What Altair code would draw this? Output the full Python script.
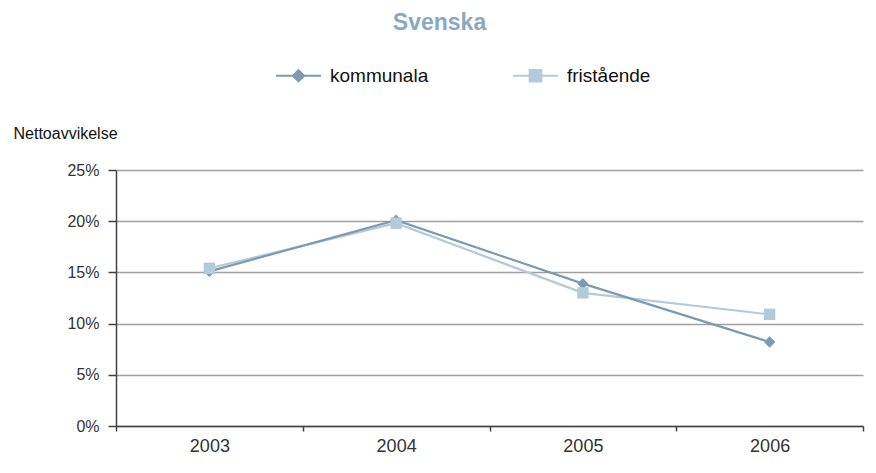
import altair as alt
import pandas as pd

years = ["2003", "2004", "2005", "2006"]
kommunala = [0.151, 0.201, 0.139, 0.082]
fristaende = [0.154, 0.198, 0.130, 0.109]
series_names = ["kommunala", "fristående"]
colors = ["#7B9BB4", "#B3CADA"]
y_ticks = [0, 0.05, 0.10, 0.15, 0.20, 0.25]

rows = []
for i, y in enumerate(years):
    rows.append({"year": y, "series": series_names[0], "value": kommunala[i]})
    rows.append({"year": y, "series": series_names[1], "value": fristaende[i]})
df = pd.DataFrame(rows)

FONT = "Liberation Sans"

x_enc = alt.X(
    "year:O",
    sort=years,
    scale=alt.Scale(type="band", paddingInner=0, paddingOuter=0),
    axis=alt.Axis(
        title=None, labelAngle=0, labelFontSize=18, labelColor="#333333",
        labelFont=FONT, tickBand="extent", tickSize=5, tickColor="#404040",
        tickWidth=1.5, domainColor="#404040", domainWidth=1.5, grid=False,
        labelPadding=6,
    ),
)
y_enc = alt.Y(
    "value:Q",
    scale=alt.Scale(domain=[0, 0.25], nice=False),
    axis=alt.Axis(
        values=y_ticks, format=".0%", labelFontSize=16, labelColor="#333333",
        labelFont=FONT, tickSize=8, tickColor="#404040", tickWidth=1.5,
        domainColor="#404040", domainWidth=1.5, grid=True,
        gridColor="#A0A0A0", gridWidth=1.5, labelPadding=9,
        title="Nettoavvikelse", titleAngle=0, titleAlign="left",
        titleBaseline="alphabetic", titleX=-103, titleY=-32,
        titleFontSize=16, titleFontWeight="normal", titleFont=FONT,
        titleColor="#111111",
    ),
)

base = alt.Chart(df)

def line_layer(name, color):
    return base.transform_filter(alt.datum.series == name).mark_line(
        color=color, strokeWidth=2.2
    ).encode(x=x_enc, y=y_enc)

def point_layer(name, color, shape, size):
    return base.transform_filter(alt.datum.series == name).mark_point(
        color=color, filled=True, opacity=1, shape=shape, size=size
    ).encode(x=x_enc, y=y_enc)

diamond_path = "M-1,0H1M0,-0.25L0.25,0L0,0.25L-0.25,0Z"
square_path = "M-1,0H1M-0.26,-0.26H0.26V0.26H-0.26Z"

legend_layer = base.transform_filter(alt.datum.value < 0).mark_point(
    filled=True, size=2025, strokeWidth=2
).encode(
    x=x_enc,
    y=y_enc,
    shape=alt.Shape("series:N", scale=alt.Scale(domain=series_names, range=[diamond_path, square_path]),
                    legend=alt.Legend(title=None)),
    fill=alt.Fill("series:N", scale=alt.Scale(domain=series_names, range=colors),
                  legend=alt.Legend(title=None)),
    stroke=alt.Stroke("series:N", scale=alt.Scale(domain=series_names, range=colors),
                      legend=alt.Legend(title=None)),
)

chart = alt.layer(
    line_layer("fristående", colors[1]),
    line_layer("kommunala", colors[0]),
    point_layer("kommunala", colors[0], "diamond", 130),
    point_layer("fristående", colors[1], "square", 130),
    legend_layer,
).properties(
    width=747,
    height=256,
    autosize=alt.AutoSizeParams(type="none"),
    padding={"left": 108, "top": 162, "right": 5, "bottom": 39},
    background="white",
    title=alt.Title(
        "Svenska", fontSize=23, fontWeight="bold", color="#8AA8BF", font=FONT,
        anchor="middle", frame="group", dx=-50, offset=17,
    ),
).configure_view(stroke=None).configure_legend(
    orient="none", legendX=159, legendY=-118, direction="horizontal",
    symbolSize=2025, symbolStrokeWidth=2, labelFontSize=19, labelFont=FONT,
    labelColor="#111111", labelOffset=8, columnPadding=80, symbolOpacity=1,
)

chart.save("out.html", embed_options={"renderer": "svg", "actions": False})
